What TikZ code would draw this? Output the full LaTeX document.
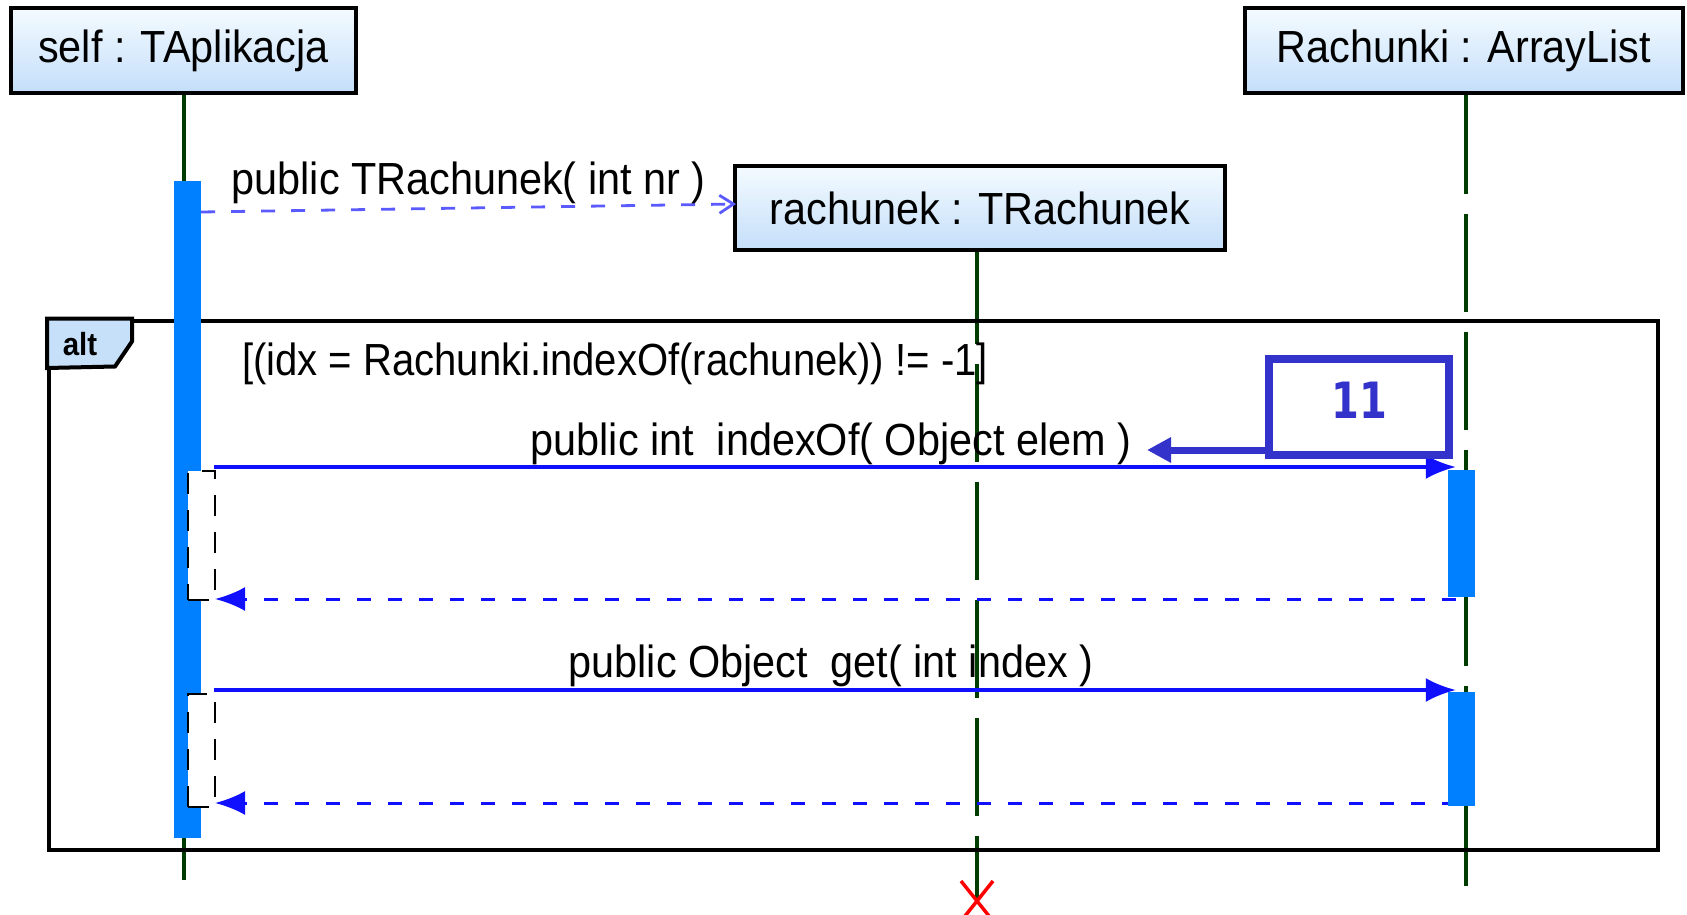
\documentclass[tikz,border=0pt]{standalone}
\usepackage{tikz}
\usepackage{fontspec}
\setmainfont{Liberation Sans}[FakeStretch=0.92]
\newfontfamily\guardfont{Liberation Sans}[FakeStretch=0.89]
\newfontfamily\notefont{DejaVu Sans}[FakeStretch=0.8]
\usetikzlibrary{arrows.meta,calc}

\definecolor{boxtop}{RGB}{244,251,255}
\definecolor{boxbot}{RGB}{196,222,250}
\definecolor{lifegreen}{RGB}{0,60,0}
\definecolor{actblue}{RGB}{0,128,255}
\definecolor{msgblue}{RGB}{16,16,255}
\definecolor{createblue}{RGB}{90,90,255}
\definecolor{notecol}{RGB}{51,51,204}
\definecolor{tabblue}{RGB}{198,224,250}
\definecolor{destroyred}{RGB}{255,0,0}

\pgfdeclarelayer{lifelines}
\pgfdeclarelayer{messages}
\pgfsetlayers{lifelines,messages,main}

\tikzset{
  objbox/.style={draw=black, line width=4pt, top color=boxtop, bottom color=boxbot,
    inner sep=0pt, minimum height=85pt, font=\fontsize{45}{54}\selectfont},
  lifeline/.style={draw=lifegreen, line width=4pt, dash pattern=on 98.5pt off 19.5pt},
  actbar/.style={fill=actblue, inner sep=0pt, minimum width=27pt},
  retbox/.style={draw=black, fill=white, line width=2.5pt,
    dash pattern=on 21pt off 16pt, inner sep=0pt, minimum width=27pt},
  msg/.style={draw=msgblue, line width=3.3pt,
    -{Latex[length=30pt,width=24pt]}, shorten >=-8pt},
  ret/.style={draw=msgblue, line width=3pt, dash pattern=on 14pt off 17pt,
    -{Latex[length=30pt,width=24pt]}},
  create/.style={draw=createblue, line width=2.8pt, dash pattern=on 14pt off 16pt,
    -{Straight Barb[length=14pt,width=18pt]}},
  lbl/.style={font=\fontsize{45}{54}\selectfont, inner sep=0pt, anchor=base},
  altframe/.style={draw=black, line width=4pt, inner sep=0pt},
  tab/.style={draw=black, fill=tabblue, line width=4pt, line join=miter},
  notebox/.style={draw=notecol, fill=white, line width=8pt, inner sep=0pt,
    text=notecol, text depth=14pt, font={\notefont\bfseries\fontsize{50}{58}\selectfont}},
  notearrow/.style={draw=notecol, line width=7pt, -{Triangle[length=24pt,width=24pt]}},
  destroy/.style={draw=destroyred, line width=3.5pt},
}

\begin{document}
\begin{tikzpicture}[x=1pt,y=-1pt]
\useasboundingbox (0,0) rectangle (1687,915);

% participants at the top
\node[objbox, minimum width=345pt] (self) at (183.5,50.5) {self : TAplikacja};
\node[objbox, minimum width=438pt] (list) at (1464,51) {Rachunki : ArrayList};

% combined fragment "alt"
\node[altframe, minimum width=1609pt, minimum height=529.5pt] (alt) at (853.5,585.25) {};
\draw[tab] (alt.north west) -- ++(85,0) -- ++(0,23) -- ++(-17,25)
  -- (alt.north west |- 0,368) -- cycle;
\node[font=\bfseries\fontsize{32}{38}\selectfont, inner sep=0pt, anchor=base] (alttag) at (80,355) {alt};
\node[lbl, anchor=base west, font=\guardfont\fontsize{45}{54}\selectfont] (guard) at (242,375)
  {[(idx = Rachunki.indexOf(rachunek)) != -1]};

% activation bars
\node[actbar, minimum height=657pt] (selfact) at (187.5,509.5) {};
\node[actbar, minimum height=127pt] (act1) at (1461.5,533.5) {};
\node[actbar, minimum height=114pt] (act2) at (1461.5,749) {};

% caller-side return boxes
\node[retbox, minimum height=129pt] (ret1) at (201.5,535.5) {};
\node[retbox, minimum height=113pt] (ret2) at (201.5,750.5) {};

% created object
\node[objbox, minimum width=490pt, minimum height=84pt] (rach) at (980,208) {rachunek : TRachunek};

% lifeline ends
\coordinate (selfend) at (184,880);
\coordinate (listend) at (1466,886);
\coordinate (rachend) at (977,901);

\begin{pgfonlayer}{lifelines}
  \draw[lifeline] (self.south -| selfend) -- (selfend);
  \draw[lifeline] (list.south -| listend) -- (listend);
  \draw[lifeline, dash phase=6.5pt] (rach.south -| rachend) -- (rachend);
\end{pgfonlayer}

% calls and returns
\coordinate (m1s) at (214,467);
\coordinate (m2s) at (214,690);
\coordinate (r1e) at (215,599);
\coordinate (r2e) at (215,803);

\begin{pgfonlayer}{messages}
  \draw[msg] (m1s) -- (m1s -| act1.west)
    node[lbl, midway, yshift=12pt] {public int\ \ indexOf( Object elem )};
  \draw[ret] ($(r1e -| act1.west)+(8,0)$) -- (r1e);
  \draw[msg] (m2s) -- (m2s -| act2.west)
    node[lbl, midway, yshift=13pt] {public Object\ \ get( int index )};
  \draw[ret] ($(r2e -| act2.west)+(8,0)$) -- (r2e);
\end{pgfonlayer}

% constructor call
\coordinate (cs) at (selfact.east |- 0,212);
\draw[create] (cs) -- ($(rach.west)+(3,-4)$)
  node[lbl, midway, yshift=14pt] {public TRachunek( int nr )};

% destruction mark
\draw[destroy] ($(rachend)+(-16,-20)$) -- ($(rachend)+(16,20)$)
               ($(rachend)+(16,-20)$) -- ($(rachend)+(-16,20)$);

% note with pointer
\node[notebox, minimum width=180pt, minimum height=96pt] (note) at (1359,407) {11};
\coordinate (notetip) at (1147,450);
\draw[notearrow] (note.west |- notetip) -- (notetip);

\end{tikzpicture}
\end{document}
